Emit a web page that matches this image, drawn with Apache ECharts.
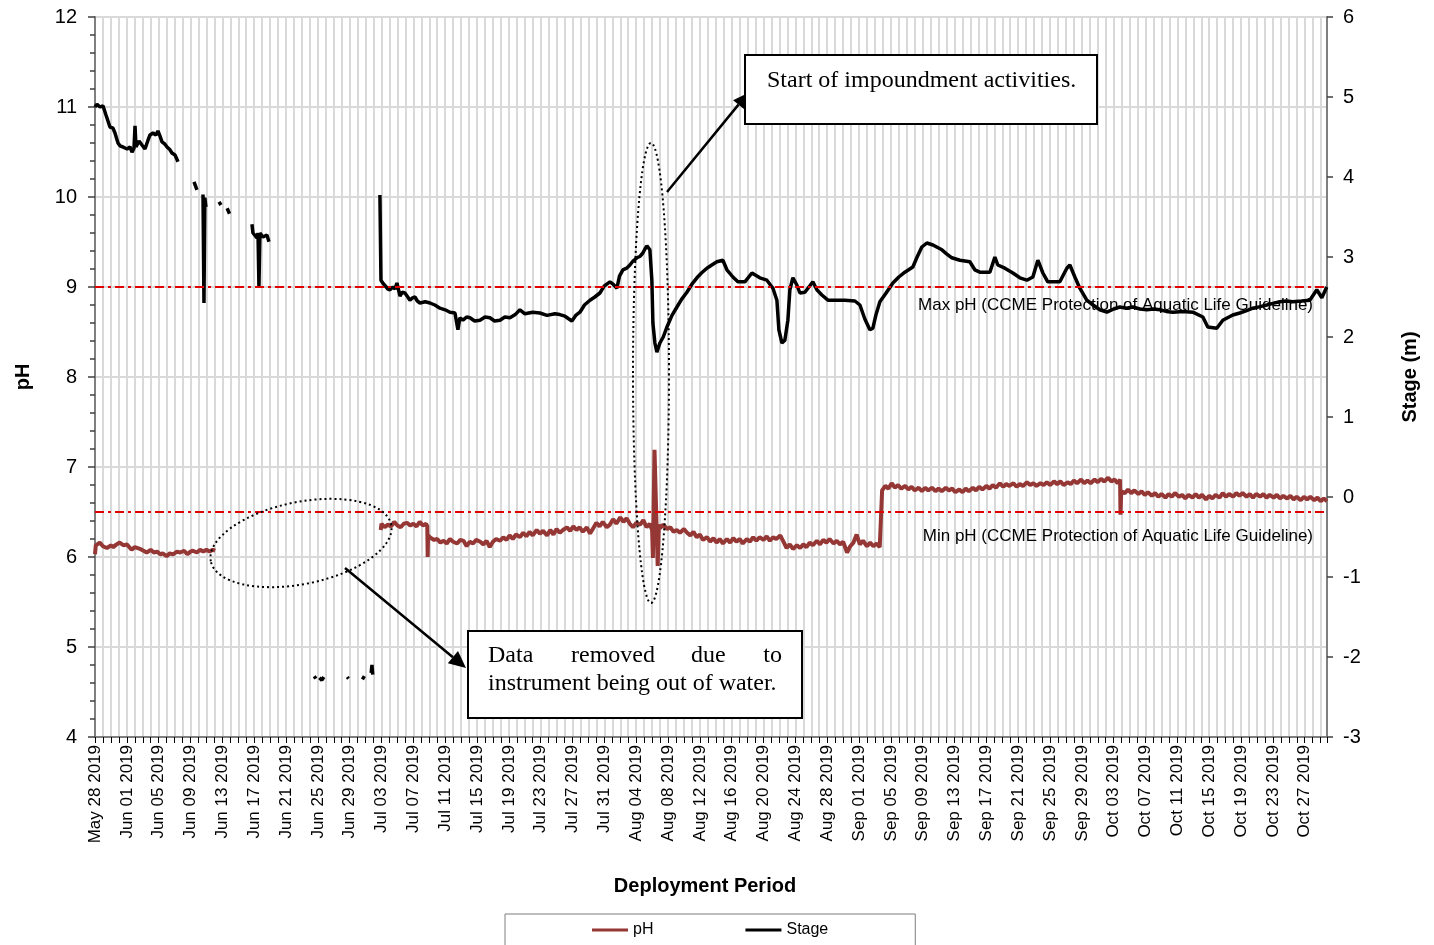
<!DOCTYPE html>
<html><head><meta charset="utf-8">
<script src="https://cdn.jsdelivr.net/npm/echarts@6/dist/echarts.min.js"></script>
<style>html,body{margin:0;padding:0;background:#fff}#c{width:1434px;height:945px}</style>
</head><body><div id="c"></div>
<script>
// x values are days since May 28 2019 00:00
const tickLabels = ['May 28 2019','Jun 01 2019','Jun 05 2019','Jun 09 2019','Jun 13 2019','Jun 17 2019','Jun 21 2019','Jun 25 2019','Jun 29 2019','Jul 03 2019','Jul 07 2019','Jul 11 2019','Jul 15 2019','Jul 19 2019','Jul 23 2019','Jul 27 2019','Jul 31 2019','Aug 04 2019','Aug 08 2019','Aug 12 2019','Aug 16 2019','Aug 20 2019','Aug 24 2019','Aug 28 2019','Sep 01 2019','Sep 05 2019','Sep 09 2019','Sep 13 2019','Sep 17 2019','Sep 21 2019','Sep 25 2019','Sep 29 2019','Oct 03 2019','Oct 07 2019','Oct 11 2019','Oct 15 2019','Oct 19 2019','Oct 23 2019','Oct 27 2019'];
const lastDay = 154.8;

const phPoints = [
[0,6.03],[0.1,6.13],[0.6,6.16],[1.0,6.12],[1.5,6.10],[2.0,6.13],[2.3,6.11],[2.7,6.14],[3.1,6.16],[3.6,6.13],[4.0,6.14],[4.6,6.08],[5.0,6.11],[5.65,6.09],[6.1,6.07],[6.5,6.05],[7.0,6.08],[7.4,6.05],[7.8,6.06],[8.2,6.03],[8.5,6.04],[9.0,6.01],[9.4,6.04],[9.8,6.03],[10.3,6.06],[10.7,6.05],[11.2,6.07],[11.6,6.03],[12.0,6.06],[12.3,6.07],[12.8,6.05],[13.2,6.08],[13.6,6.06],[14.0,6.08],[14.4,6.06],[14.8,6.08],[15.1,6.07],[15.3,null],
[35.9,6.30],[36.0,6.37],[36.4,6.33],[36.8,6.36],[37.2,6.34],[37.6,6.39],[38.0,6.35],[38.4,6.33],[38.8,6.37],[39.2,6.38],[39.6,6.35],[40.0,6.37],[40.4,6.34],[40.8,6.39],[41.2,6.35],[41.6,6.37],[41.75,6.34],[41.8,6.0],[41.85,6.24],[42.2,6.21],[42.6,6.19],[43.0,6.2],[43.4,6.16],[43.8,6.18],[44.2,6.15],[44.6,6.2],[45.0,6.17],[45.5,6.15],[45.9,6.19],[46.3,6.18],[46.7,6.12],[47.1,6.17],[47.5,6.15],[47.9,6.19],[48.4,6.17],[48.8,6.14],[49.2,6.18],[49.6,6.11],[50.0,6.17],[50.4,6.2],[50.9,6.18],[51.3,6.22],[51.7,6.19],[52.1,6.24],[52.5,6.2],[52.9,6.25],[53.4,6.22],[53.8,6.27],[54.2,6.23],[54.6,6.28],[55.0,6.24],[55.5,6.3],[55.9,6.26],[56.3,6.29],[56.8,6.24],[57.2,6.3],[57.6,6.25],[58.0,6.31],[58.4,6.27],[58.8,6.3],[59.3,6.33],[59.7,6.29],[60.1,6.34],[60.5,6.3],[60.9,6.33],[61.3,6.28],[61.8,6.33],[62.2,6.26],[62.6,6.32],[63.0,6.38],[63.4,6.34],[63.8,6.39],[64.3,6.33],[64.7,6.36],[65.1,6.42],[65.5,6.37],[66.0,6.44],[66.4,6.39],[66.8,6.43],[67.2,6.37],[67.6,6.33],[68.0,6.38],[68.5,6.36],[68.9,6.41],[69.3,6.33],[69.7,6.37],[70.0,6.3],[70.1,5.99],[70.3,7.19],[70.55,7.18],[70.7,5.9],[70.85,6.36],[71.0,6.32],[71.4,6.36],[71.9,6.31],[72.3,6.33],[72.7,6.28],[73.1,6.3],[73.5,6.27],[74.0,6.31],[74.4,6.27],[74.8,6.24],[75.2,6.28],[75.6,6.22],[76.0,6.25],[76.4,6.19],[76.9,6.22],[77.3,6.17],[77.7,6.21],[78.1,6.16],[78.5,6.2],[78.9,6.15],[79.4,6.2],[79.8,6.16],[80.2,6.21],[80.6,6.17],[81.0,6.2],[81.4,6.15],[81.9,6.2],[82.3,6.17],[82.7,6.22],[83.1,6.18],[83.5,6.22],[84.0,6.19],[84.4,6.23],[84.8,6.18],[85.2,6.22],[85.6,6.2],[86.1,6.24],[86.5,6.17],[86.9,6.1],[87.3,6.14],[87.7,6.09],[88.2,6.13],[88.6,6.1],[89.0,6.14],[89.4,6.11],[89.8,6.16],[90.2,6.13],[90.7,6.18],[91.1,6.14],[91.5,6.19],[91.9,6.16],[92.3,6.2],[92.8,6.15],[93.2,6.18],[93.6,6.14],[94.0,6.17],[94.5,6.05],[94.9,6.12],[95.3,6.16],[95.7,6.25],[96.1,6.14],[96.5,6.18],[97.0,6.12],[97.4,6.16],[97.8,6.12],[98.2,6.15],[98.6,6.11],[98.8,6.12],
[98.9,6.74],[99.3,6.79],[99.7,6.76],[100.1,6.82],[100.5,6.77],[100.9,6.8],[101.3,6.76],[101.8,6.79],[102.2,6.75],[102.6,6.78],[103.0,6.74],[103.5,6.77],[103.9,6.73],[104.3,6.77],[104.7,6.74],[105.2,6.77],[105.6,6.73],[106.0,6.76],[106.4,6.73],[106.9,6.77],[107.3,6.74],[107.7,6.76],[108.1,6.72],[108.6,6.75],[109.0,6.72],[109.4,6.76],[109.8,6.73],[110.3,6.77],[110.7,6.74],[111.1,6.78],[111.5,6.75],[112.0,6.79],[112.4,6.76],[112.8,6.8],[113.2,6.77],[113.7,6.82],[114.1,6.78],[114.5,6.81],[114.9,6.79],[115.4,6.82],[115.8,6.78],[116.2,6.81],[116.6,6.79],[117.1,6.83],[117.5,6.8],[117.9,6.82],[118.3,6.79],[118.8,6.82],[119.2,6.8],[119.6,6.83],[120.0,6.8],[120.5,6.84],[120.9,6.81],[121.3,6.84],[121.7,6.8],[122.2,6.83],[122.6,6.81],[123.0,6.85],[123.4,6.82],[123.9,6.86],[124.3,6.82],[124.7,6.85],[125.1,6.82],[125.6,6.86],[126.0,6.83],[126.4,6.87],[126.8,6.84],[127.3,6.88],[127.7,6.84],[128.1,6.86],[128.5,6.82],[128.8,6.86],[128.85,6.47],[128.95,6.73],[129.4,6.71],[129.8,6.75],[130.2,6.71],[130.6,6.74],[131.1,6.7],[131.5,6.73],[131.9,6.69],[132.3,6.72],[132.8,6.68],[133.2,6.71],[133.6,6.67],[134.0,6.7],[134.5,6.66],[134.9,6.7],[135.3,6.67],[135.7,6.71],[136.2,6.67],[136.6,6.69],[137.0,6.65],[137.4,6.69],[137.9,6.66],[138.3,6.7],[138.7,6.66],[139.1,6.69],[139.6,6.64],[140.0,6.68],[140.4,6.65],[140.8,6.69],[141.3,6.66],[141.7,6.71],[142.1,6.67],[142.5,6.7],[143.0,6.67],[143.4,6.71],[143.8,6.68],[144.2,6.71],[144.7,6.67],[145.1,6.7],[145.5,6.66],[145.9,6.7],[146.4,6.67],[146.8,6.7],[147.2,6.66],[147.6,6.69],[148.1,6.66],[148.5,6.69],[148.9,6.65],[149.3,6.68],[149.8,6.65],[150.2,6.68],[150.6,6.64],[151.0,6.67],[151.5,6.63],[151.9,6.67],[152.3,6.64],[152.7,6.67],[153.2,6.63],[153.6,6.66],[154.0,6.62],[154.4,6.65],[154.8,6.62]
];

const stagePoints = [
[0.0,4.875],[0.25,4.91],[0.63,4.875],[1.0,4.89],[1.38,4.775],[1.88,4.625],[2.26,4.61],[2.51,4.55],[2.89,4.425],[3.14,4.39],[3.52,4.375],[4.02,4.35],[4.4,4.375],[4.65,4.31],[4.9,4.36],[5.03,4.64],[5.15,4.375],[5.53,4.45],[5.9,4.4],[6.28,4.35],[6.66,4.46],[6.91,4.525],[7.29,4.55],[7.66,4.525],[7.91,4.575],[8.17,4.51],[8.42,4.44],[8.79,4.41],[9.05,4.375],[9.42,4.34],[9.67,4.3],[10.05,4.275],[10.43,4.19],[10.6,null],
[12.44,3.94],[12.81,3.84],[13.0,null],
[13.57,3.78],[13.69,2.425],[13.8,3.74],[13.94,3.625],[14.1,null],
[15.58,3.69],[15.83,3.65],[16.0,null],
[16.6,3.61],[16.9,3.54],[17.0,null],
[19.72,3.41],[19.85,3.3],[20.35,3.24],[20.48,3.3],[20.6,2.625],[20.72,3.3],[21.1,3.25],[21.6,3.275],[21.86,3.19],[22.0,null],
[27.55,-2.24],[27.75,-2.27],[27.9,null],
[28.2,-2.26],[28.5,-2.29],[28.75,-2.25],[28.9,null],
[31.7,-2.25],[31.85,-2.27],[32.0,null],
[33.6,-2.28],[33.85,-2.24],[34.0,null],
[34.7,-2.2],[34.8,-2.1],[34.9,-2.22],[35.0,null],
[35.8,3.775],[35.93,2.71],[36.2,2.67],[36.43,2.65],[36.8,2.6],[37.06,2.59],[37.44,2.625],[37.7,2.6],[37.94,2.675],[38.32,2.51],[38.6,2.56],[38.94,2.55],[39.3,2.5],[39.57,2.46],[39.9,2.49],[40.2,2.5],[40.5,2.45],[40.83,2.425],[41.5,2.44],[42.09,2.425],[42.7,2.4],[43.34,2.36],[44.0,2.34],[44.6,2.31],[45.23,2.3],[45.6,2.09],[45.85,2.24],[46.23,2.21],[46.7,2.25],[47.11,2.24],[47.7,2.2],[48.37,2.21],[49.0,2.25],[49.62,2.24],[50.2,2.2],[50.88,2.21],[51.5,2.25],[52.14,2.24],[52.8,2.28],[53.39,2.34],[54.02,2.29],[55.0,2.31],[55.9,2.3],[56.8,2.27],[57.79,2.29],[58.4,2.28],[59.05,2.26],[59.92,2.2],[60.4,2.27],[60.93,2.31],[61.5,2.4],[62.19,2.46],[62.8,2.5],[63.44,2.55],[64.0,2.64],[64.7,2.69],[65.1,2.66],[65.58,2.61],[65.9,2.76],[66.33,2.84],[66.8,2.86],[67.21,2.9],[67.6,2.95],[68.09,2.99],[68.5,3.01],[68.84,3.05],[69.1,3.1],[69.35,3.14],[69.72,3.09],[69.97,2.71],[70.1,2.175],[70.35,1.925],[70.6,1.81],[70.98,1.925],[71.4,2.0],[71.86,2.125],[72.5,2.27],[73.12,2.375],[73.7,2.47],[74.37,2.56],[75.0,2.66],[75.63,2.74],[76.2,2.8],[76.88,2.86],[77.5,2.9],[78.14,2.94],[78.89,2.96],[79.4,2.84],[80.15,2.75],[80.78,2.69],[81.66,2.69],[82.54,2.8],[83.54,2.74],[84.42,2.71],[85.18,2.61],[85.68,2.46],[85.93,2.09],[86.31,1.925],[86.68,1.96],[87.06,2.21],[87.31,2.59],[87.69,2.74],[88.19,2.65],[88.57,2.55],[89.2,2.56],[89.82,2.64],[90.2,2.69],[90.7,2.59],[91.33,2.525],[92.09,2.46],[92.96,2.46],[94.22,2.46],[95.48,2.45],[96.11,2.4],[96.73,2.225],[97.36,2.09],[97.74,2.11],[98.12,2.275],[98.62,2.44],[99.4,2.55],[100.25,2.675],[101.0,2.75],[101.76,2.81],[102.76,2.875],[103.3,3.0],[103.89,3.125],[104.52,3.175],[105.28,3.15],[106.41,3.09],[107.0,3.04],[107.66,2.99],[108.67,2.96],[109.92,2.94],[110.55,2.84],[111.18,2.81],[112.44,2.81],[113.07,3.0],[113.44,2.9],[114.32,2.86],[115.33,2.8],[116.21,2.74],[117.09,2.71],[117.84,2.75],[118.47,2.96],[119.1,2.8],[119.72,2.69],[121.23,2.69],[122.11,2.86],[122.49,2.9],[123.12,2.75],[123.74,2.61],[124.62,2.46],[125.4,2.4],[126.26,2.34],[127.14,2.31],[128.0,2.35],[128.77,2.375],[129.6,2.36],[130.4,2.375],[131.3,2.35],[132.16,2.34],[133.0,2.35],[133.79,2.34],[134.6,2.32],[135.43,2.31],[136.7,2.32],[137.94,2.31],[139.2,2.25],[139.82,2.125],[140.95,2.11],[141.71,2.21],[142.96,2.275],[143.84,2.3],[144.7,2.33],[145.48,2.36],[146.4,2.38],[147.24,2.4],[148.0,2.42],[148.87,2.44],[149.7,2.45],[150.5,2.44],[151.6,2.45],[152.64,2.46],[153.52,2.59],[154.15,2.49],[154.77,2.625]
];

const guidelines = [
  {value: 9, text: 'Max pH (CCME Protection of Aquatic Life Guideline)'},
  {value: 6.5, text: 'Min pH (CCME Protection of Aquatic Life Guideline)'}
];

const SANS = 'Liberation Sans, Arial, sans-serif';
const SERIF = 'Liberation Serif, Times New Roman, serif';
const chart = echarts.init(document.getElementById('c'), null, {renderer: 'canvas'});

function arrowHead(tip, from, len, half) {
  const dx = tip[0] - from[0], dy = tip[1] - from[1];
  const L = Math.hypot(dx, dy), ux = dx / L, uy = dy / L;
  const bx = tip[0] - ux * len, by = tip[1] - uy * len;
  return [tip, [bx - uy * half, by + ux * half], [bx + uy * half, by - ux * half]];
}

const option = {
  animation: false,
  backgroundColor: '#fff',
  grid: {left: 95, right: 107, top: 17, bottom: 208, containLabel: false},
  legend: {
    left: 505, top: 914,
    padding: [8, 87, 20, 87],
    itemGap: 92, itemWidth: 36, itemHeight: 3,
    borderColor: '#7f7f7f', borderWidth: 1, borderRadius: 0,
    textStyle: {fontFamily: SANS, fontSize: 16, color: '#000'},
    data: [{name: 'pH', icon: 'rect'}, {name: 'Stage', icon: 'rect'}]
  },
  xAxis: {
    type: 'value', min: 0, max: lastDay, interval: 1,
    name: 'Deployment Period', nameLocation: 'middle', nameGap: 139,
    nameTextStyle: {fontFamily: SANS, fontSize: 20, fontWeight: 'bold', color: '#000', padding: [0, 12, 0, 0]},
    axisLine: {show: true, onZero: false, lineStyle: {color: '#7f7f7f', width: 2}},
    axisTick: {show: true, length: 6, lineStyle: {color: '#000', width: 1}},
    axisLabel: {
      rotate: 90, margin: 8, fontFamily: SANS, fontSize: 17, color: '#000',
      formatter: function (v) {
        const r = Math.round(v);
        if (Math.abs(v - r) > 1e-6 || r % 4 !== 0) return '';
        return tickLabels[r / 4] || '';
      }
    },
    splitLine: {show: true, lineStyle: {color: '#d9d9d9', width: 2}}
  },
  yAxis: [{
    type: 'value', min: 4, max: 12, interval: 1, position: 'left',
    name: 'pH', nameLocation: 'middle', nameRotate: 90, nameGap: 62,
    nameTextStyle: {fontFamily: SANS, fontSize: 20, fontWeight: 'bold', color: '#000'},
    axisLine: {show: true, onZero: false, lineStyle: {color: '#7f7f7f', width: 2}},
    axisTick: {show: true, length: 7, lineStyle: {color: '#404040', width: 1.5}},
    minorTick: {show: true, splitNumber: 5, length: 5, lineStyle: {color: '#404040', width: 1.5}},
    axisLabel: {margin: 18, fontFamily: SANS, fontSize: 20, color: '#000'},
    splitLine: {show: true, lineStyle: {color: '#d9d9d9', width: 2}}
  }, {
    type: 'value', min: -3, max: 6, interval: 1, position: 'right',
    name: 'Stage (m)', nameLocation: 'middle', nameRotate: 90, nameGap: 73,
    nameTextStyle: {fontFamily: SANS, fontSize: 20, fontWeight: 'bold', color: '#000'},
    axisLine: {show: true, onZero: false, lineStyle: {color: '#7f7f7f', width: 2}},
    axisTick: {show: true, length: 6, lineStyle: {color: '#404040', width: 1.5}},
    axisLabel: {margin: 16, fontFamily: SANS, fontSize: 20, color: '#000'},
    splitLine: {show: false}
  }],
  series: [{
    name: 'pH', type: 'line', yAxisIndex: 0, data: phPoints,
    showSymbol: false, symbol: 'none', connectNulls: false,
    lineStyle: {color: '#953735', width: 4},
    itemStyle: {color: '#953735'},
    markLine: {
      silent: true, symbol: 'none',
      lineStyle: {color: '#e00000', type: [9, 4, 3, 4], width: 2},
      label: {show: true, position: 'insideEndBottom', fontFamily: SANS, fontSize: 17, color: '#000'},
      data: guidelines.map((g, i) => ({
        yAxis: g.value,
        label: {formatter: g.text, distance: [14, i === 0 ? 10 : 16]}
      }))
    },
    z: 3
  }, {
    name: 'Stage', type: 'line', yAxisIndex: 1, data: stagePoints,
    showSymbol: false, symbol: 'none', connectNulls: false,
    lineStyle: {color: '#000', width: 3.5},
    itemStyle: {color: '#000'},
    z: 4
  }],
  graphic: []
};

const a1 = arrowHead([748, 93], [667, 192], 15, 7);
const a2 = arrowHead([466, 668], [345, 568], 17, 8);
const T = (x, y, text, align) => ({type: 'text', z: 21, x: x, y: y,
  style: {text: text, fontFamily: SERIF, fontSize: 24, fill: '#000', verticalAlign: 'middle', align: align || 'left'}});
option.graphic = [
  {type: 'ellipse', z: 20, shape: {cx: 651, cy: 373, rx: 18, ry: 230},
   style: {fill: null, stroke: '#000', lineWidth: 2, lineDash: [2, 3]}},
  {type: 'ellipse', z: 20, x: 301, y: 543, rotation: 0.2, shape: {cx: 0, cy: 0, rx: 92, ry: 41},
   style: {fill: null, stroke: '#000', lineWidth: 2, lineDash: [2, 3]}},
  {type: 'line', z: 20, shape: {x1: 667, y1: 192, x2: (a1[1][0] + a1[2][0]) / 2, y2: (a1[1][1] + a1[2][1]) / 2},
   style: {stroke: '#000', lineWidth: 2.5}},
  {type: 'polygon', z: 20, shape: {points: a1}, style: {fill: '#000'}},
  {type: 'line', z: 20, shape: {x1: 345, y1: 568, x2: (a2[1][0] + a2[2][0]) / 2, y2: (a2[1][1] + a2[2][1]) / 2},
   style: {stroke: '#000', lineWidth: 2.5}},
  {type: 'polygon', z: 20, shape: {points: a2}, style: {fill: '#000'}},
  {type: 'rect', z: 20, shape: {x: 745, y: 55, width: 352, height: 69},
   style: {fill: '#fff', stroke: '#000', lineWidth: 2}},
  T(767, 81, 'Start of impoundment activities.'),
  {type: 'rect', z: 20, shape: {x: 468, y: 631, width: 334, height: 87},
   style: {fill: '#fff', stroke: '#000', lineWidth: 2}},
  T(488, 656, 'Data'), T(571, 656, 'removed'), T(691, 656, 'due'), T(782, 656, 'to', 'right'),
  T(488, 684, 'instrument being out of water.')
];

chart.setOption(option);
</script>
</body></html>
